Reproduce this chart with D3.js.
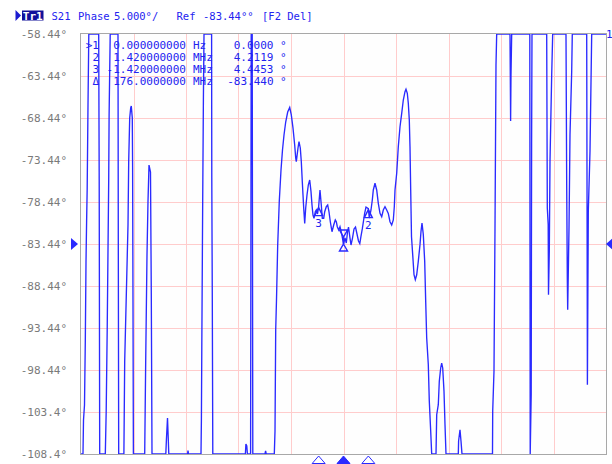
<!DOCTYPE html>
<html>
<head>
<meta charset="utf-8">
<script src="https://cdn.jsdelivr.net/npm/d3@7"></script>
<style>
  html, body { margin: 0; padding: 0; background: #ffffff; }
  svg { display: block; font-family: "DejaVu Sans Mono", monospace; }
</style>
</head>
<body>
<svg id="chart" width="612" height="464"></svg>
<script>
// ---- S21 phase sweep (MHz, degrees), shown on a 5°/div window ----
const freqMHz = [
  161.000, 161.114, 161.143, 161.200, 161.246, 161.286, 161.320, 161.354, 161.400, 161.446,
  162.011, 162.040, 162.069, 162.389, 162.440, 162.497, 162.543, 162.583, 162.606, 162.669,
  163.114, 163.131, 163.154, 163.451, 163.497, 163.589, 163.686, 163.726, 163.783, 163.840,
  163.874, 163.931, 163.949, 163.971, 163.994, 164.640, 164.697, 164.771, 164.829, 164.886,
  164.971, 165.017, 165.057, 165.846, 165.880, 165.943, 165.989, 166.017, 167.091, 167.114,
  167.143, 167.857, 167.880, 167.903, 167.954, 167.994, 168.029, 168.463, 168.474, 168.503,
  168.531, 170.394, 170.423, 170.474, 170.509, 170.691, 170.726, 170.783, 170.817, 171.514,
  171.549, 171.583, 172.046, 172.086, 172.126, 172.171, 172.240, 172.331, 172.429, 172.514,
  172.600, 172.697, 172.811, 172.926, 173.017, 173.114, 173.211, 173.269, 173.303, 173.400,
  173.457, 173.531, 173.589, 173.646, 173.686, 173.726, 173.783, 173.840, 173.914, 173.989,
  174.069, 174.143, 174.200, 174.257, 174.314, 174.389, 174.446, 174.514, 174.580, 174.657,
  174.731, 174.789, 174.869, 174.926, 175.017, 175.097, 175.171, 175.246, 175.343, 175.440,
  175.531, 175.589, 175.646, 175.726, 175.800, 175.897, 176.000, 176.086, 176.160, 176.229,
  176.286, 176.371, 176.429, 176.514, 176.600, 176.686, 176.771, 176.857, 176.931, 177.000,
  177.074, 177.143, 177.211, 177.286, 177.420, 177.474, 177.571, 177.646, 177.703, 177.800,
  177.897, 177.989, 178.086, 178.183, 178.274, 178.371, 178.469, 178.560, 178.657, 178.754,
  178.846, 178.903, 178.943, 179.040, 179.131, 179.229, 179.326, 179.417, 179.514, 179.571,
  179.646, 179.703, 179.760, 179.800, 179.840, 179.886, 179.954, 180.029, 180.103, 180.183,
  180.274, 180.371, 180.429, 180.486, 180.560, 180.640, 180.697, 180.754, 180.846, 180.903,
  180.983, 181.040, 181.286, 181.326, 181.417, 181.474, 181.554, 181.611, 181.669, 181.743,
  181.800, 181.857, 182.560, 182.577, 182.657, 182.714, 182.771, 184.514, 184.526, 184.600,
  184.657, 184.714, 184.754, 185.514, 185.531, 185.549, 185.571, 185.611, 186.646, 186.669,
  186.726, 186.749, 186.771, 187.611, 187.646, 187.697, 187.714, 187.760, 187.800, 187.897,
  187.954, 188.714, 188.754, 188.789, 188.811, 188.886, 188.943, 189.040, 189.074, 189.897,
  189.926, 189.937, 189.989, 190.086, 190.183, 191.000
];
const phaseDeg = [
  -108.44, -108.44, -104.39, -102.61, -94.99, -85.58, -80.82, -76.77, -66.89, -58.44,
  -58.44, -75.82, -108.44, -108.44, -103.32, -93.68, -84.15, -75.82, -68.08, -58.44,
  -58.44, -82.96, -108.44, -108.44, -97.37, -89.51, -81.18, -73.56, -68.44, -67.25,
  -67.01, -68.44, -74.39, -90.11, -108.44, -108.44, -97.37, -84.75, -78.32, -74.04,
  -74.87, -89.51, -108.44, -108.44, -106.77, -104.15, -106.77, -108.44, -108.44, -108.02,
  -108.44, -108.44, -104.39, -95.82, -78.32, -66.30, -58.44, -58.44, -75.58, -90.11,
  -108.44, -108.44, -107.25, -107.49, -108.44, -108.44, -58.44, -58.44, -108.44, -108.44,
  -108.08, -108.44, -108.44, -105.70, -93.68, -90.11, -83.56, -78.32, -74.63, -72.25,
  -70.46, -68.92, -67.73, -67.19, -68.08, -69.63, -71.65, -73.20, -73.64, -72.01,
  -71.26, -72.01, -73.64, -76.02, -77.61, -79.15, -80.98, -79.15, -77.61, -76.42,
  -75.82, -77.21, -78.80, -79.99, -80.38, -79.60, -79.39, -79.87, -78.99, -77.01,
  -78.80, -80.38, -80.38, -79.60, -79.00, -78.80, -79.60, -80.79, -81.98, -81.18,
  -80.58, -80.79, -81.38, -81.77, -81.38, -82.25, -83.44, -82.73, -83.32, -82.01,
  -81.42, -82.73, -83.56, -82.73, -81.65, -81.42, -82.25, -83.08, -83.38, -82.49,
  -81.65, -80.70, -79.75, -79.04, -79.23, -80.35, -79.39, -78.20, -77.01, -76.21,
  -77.01, -78.60, -79.79, -80.19, -79.39, -79.00, -79.39, -79.79, -80.79, -81.18,
  -80.58, -79.00, -77.01, -75.02, -71.86, -69.48, -67.88, -66.30, -65.31, -65.02,
  -65.50, -66.69, -68.68, -71.86, -77.01, -82.57, -84.71, -87.10, -87.69, -87.10,
  -85.50, -83.52, -81.93, -80.94, -82.33, -85.50, -90.26, -94.63, -97.81, -102.17,
  -105.74, -108.44, -108.44, -103.76, -102.57, -99.79, -98.20, -97.61, -98.20, -100.98,
  -104.95, -108.44, -108.44, -106.89, -105.55, -106.89, -108.44, -108.44, -103.32, -98.56,
  -81.54, -62.13, -58.44, -58.44, -63.32, -68.80, -63.32, -58.44, -58.44, -108.44,
  -101.30, -71.54, -58.44, -58.44, -79.15, -81.14, -89.48, -84.31, -73.60, -63.29,
  -58.44, -58.44, -76.38, -87.49, -91.26, -81.54, -70.43, -62.88, -58.44, -58.44,
  -87.10, -100.19, -79.51, -72.40, -58.44, -58.44
];

// ---- axis / grid ----
const freqStartMHz = 161, freqStopMHz = 191, freqDivisions = 10;
const yTickValues = [-58.44, -63.44, -68.44, -73.44, -78.44, -83.44, -88.44, -93.44, -98.44, -103.44, -108.44];
const yTickLabels = ["-58.44°", "-63.44°", "-68.44°", "-73.44°", "-78.44°", "-83.44°",
                     "-88.44°", "-93.44°", "-98.44°", "-103.4°", "-108.4°"];
const refLevelDeg = -83.44;

// ---- markers ----
const markerIds = ["1", "2", "3"];
const markerFreqMHz = [176.0, 177.42, 174.58];
const markerPhaseDeg = [-83.44, -79.2281, -78.9947];
const activeMarker = "1";

// ---- marker readout table ----
const tableIds = [">1", "2", "3", "Δ"];
const tableStimulus = ["0.000000000", "1.420000000", "-1.420000000", "176.0000000"];
const tableUnits = ["Hz", "MHz", "MHz", "MHz"];
const tableValues = ["0.0000", "4.2119", "4.4453", "-83.440"];

// ---- header ----
const headerParts = [
  { text: "S21", x: 51.5 },
  { text: "Phase", x: 78 },
  { text: "5.000°/", x: 114 },
  { text: "Ref", x: 176.5 },
  { text: "-83.44°°", x: 203 },
  { text: "[F2 Del]", x: 262 }
];

const BLUE = "#2a2aff";
const TEXT_BLUE = "#2323f0";
const GRID = "#ffcccc";

const svg = d3.select("#chart");
const plot = { left: 81, right: 606, top: 34, bottom: 454 };

const x = d3.scaleLinear([freqStartMHz, freqStopMHz], [plot.left, plot.right]).clamp(true);
const y = d3.scaleLinear([-108.44, -58.44], [plot.bottom, plot.top]).clamp(true);

// plot background
svg.append("rect")
  .attr("x", plot.left).attr("y", plot.top)
  .attr("width", plot.right - plot.left).attr("height", plot.bottom - plot.top)
  .attr("fill", "#fefefe");

// grid
const gridFreqs = d3.range(freqDivisions + 1).map(i => freqStartMHz + i * (freqStopMHz - freqStartMHz) / freqDivisions);
const grid = svg.append("g").attr("stroke", GRID).attr("stroke-width", 1);
grid.selectAll("line.v").data(gridFreqs.slice(1, -1)).join("line")
  .attr("class", "v")
  .attr("x1", d => Math.round(x(d)) + 0.5).attr("x2", d => Math.round(x(d)) + 0.5)
  .attr("y1", plot.top).attr("y2", plot.bottom);
grid.selectAll("line.h").data(yTickValues.slice(1, -1)).join("line")
  .attr("class", "h")
  .attr("y1", d => Math.round(y(d)) + 0.5).attr("y2", d => Math.round(y(d)) + 0.5)
  .attr("x1", plot.left).attr("x2", plot.right);

// y axis labels
const yAxis = d3.axisLeft(y)
  .tickValues(yTickValues)
  .tickFormat((d, i) => yTickLabels[i])
  .tickSize(0)
  .tickPadding(14);
const yAxisG = svg.append("g").attr("transform", `translate(${plot.left},0)`).call(yAxis);
yAxisG.select(".domain").remove();
yAxisG.selectAll("text")
  .attr("fill", "#7a7a7a")
  .style("font-family", "'DejaVu Sans Mono', monospace")
  .style("font-size", "11px");

// trace
const traceData = freqMHz.map((f, i) => ({ f, p: phaseDeg[i] }));
const line = d3.line().x(d => x(d.f)).y(d => y(d.p));
svg.append("path")
  .datum(traceData)
  .attr("d", line)
  .attr("fill", "none")
  .attr("stroke", BLUE)
  .attr("stroke-width", 1.35)
  .attr("stroke-linejoin", "miter");

// plot frame
svg.append("rect")
  .attr("x", plot.left - 0.5).attr("y", plot.top - 0.5)
  .attr("width", plot.right - plot.left + 1).attr("height", plot.bottom - plot.top + 1)
  .attr("fill", "none").attr("stroke", "#a8a8a8").attr("stroke-width", 1);

// reference level arrows
const yRef = y(refLevelDeg);
svg.append("path")
  .attr("d", `M${plot.left - 10},${yRef - 6}L${plot.left - 3},${yRef}L${plot.left - 10},${yRef + 6}Z`)
  .attr("fill", BLUE);
svg.append("path")
  .attr("d", `M${plot.right + 7},${yRef - 6}L${plot.right},${yRef}L${plot.right + 7},${yRef + 6}Z`)
  .attr("fill", BLUE);

// markers on the trace
const markers = markerIds.map((id, i) => ({ id, f: markerFreqMHz[i], p: markerPhaseDeg[i] }));
const mg = svg.append("g").attr("fill", "none").attr("stroke", BLUE).attr("stroke-width", 1.4);
markers.forEach(m => {
  const mx = x(m.f), my = y(m.p);
  if (m.id === activeMarker) {
    mg.append("path").attr("d", `M${mx - 4},${my - 14}L${mx + 4},${my - 14}L${mx},${my - 7}Z`);
    mg.append("line").attr("x1", mx).attr("x2", mx).attr("y1", my - 7).attr("y2", my);
    mg.append("path").attr("d", `M${mx},${my}L${mx + 4},${my + 7}L${mx - 4},${my + 7}Z`);
  } else {
    mg.append("path").attr("d", `M${mx},${my + 1}L${mx + 4},${my + 9}L${mx - 4},${my + 9}Z`);
    svg.append("text")
      .attr("x", mx).attr("y", my + 20)
      .attr("text-anchor", "middle")
      .attr("fill", TEXT_BLUE)
      .style("font-size", "11px")
      .text(m.id);
  }
});

// marker position triangles under the grid
markers.forEach(m => {
  const mx = x(m.f);
  const active = m.id === activeMarker;
  svg.append("path")
    .attr("d", `M${mx},${plot.bottom + 2}L${mx + 6.5},${plot.bottom + 9.5}L${mx - 6.5},${plot.bottom + 9.5}Z`)
    .attr("fill", active ? BLUE : "#ffffff")
    .attr("stroke", BLUE)
    .attr("stroke-width", 1);
});

// marker readout table
const table = svg.append("g").attr("fill", TEXT_BLUE).style("font-size", "11px");
tableIds.forEach((id, i) => {
  const by = 48.5 + i * 12.2;
  table.append("text").attr("x", 99).attr("y", by).attr("text-anchor", "end").text(id);
  table.append("text").attr("x", 186).attr("y", by).attr("text-anchor", "end").text(tableStimulus[i]);
  table.append("text").attr("x", 193).attr("y", by).text(tableUnits[i]);
  table.append("text").attr("x", 273.5).attr("y", by).attr("text-anchor", "end").text(tableValues[i]);
  table.append("text").attr("x", 280).attr("y", by).text("°");
});

// trace number at the right end of the top edge
svg.append("text")
  .attr("x", plot.right).attr("y", 37.5)
  .attr("fill", TEXT_BLUE)
  .style("font-size", "11px")
  .text("1");

// header line
svg.append("path").attr("d", "M15.5,10L21,15.5L15.5,21Z").attr("fill", "#1a1ad0");
svg.append("rect").attr("x", 22).attr("y", 10.5).attr("width", 21.5).attr("height", 10).attr("fill", "#10109a");
svg.append("text").attr("x", 32.75).attr("y", 19.5).attr("text-anchor", "middle")
  .attr("fill", "#ffffff").style("font-size", "11px").style("font-weight", "bold").text("Tr1");
svg.append("g").attr("fill", TEXT_BLUE).style("font-size", "10.5px")
  .selectAll("text").data(headerParts).join("text")
  .attr("x", d => d.x).attr("y", 19.5)
  .text(d => d.text);
</script>
</body>
</html>
